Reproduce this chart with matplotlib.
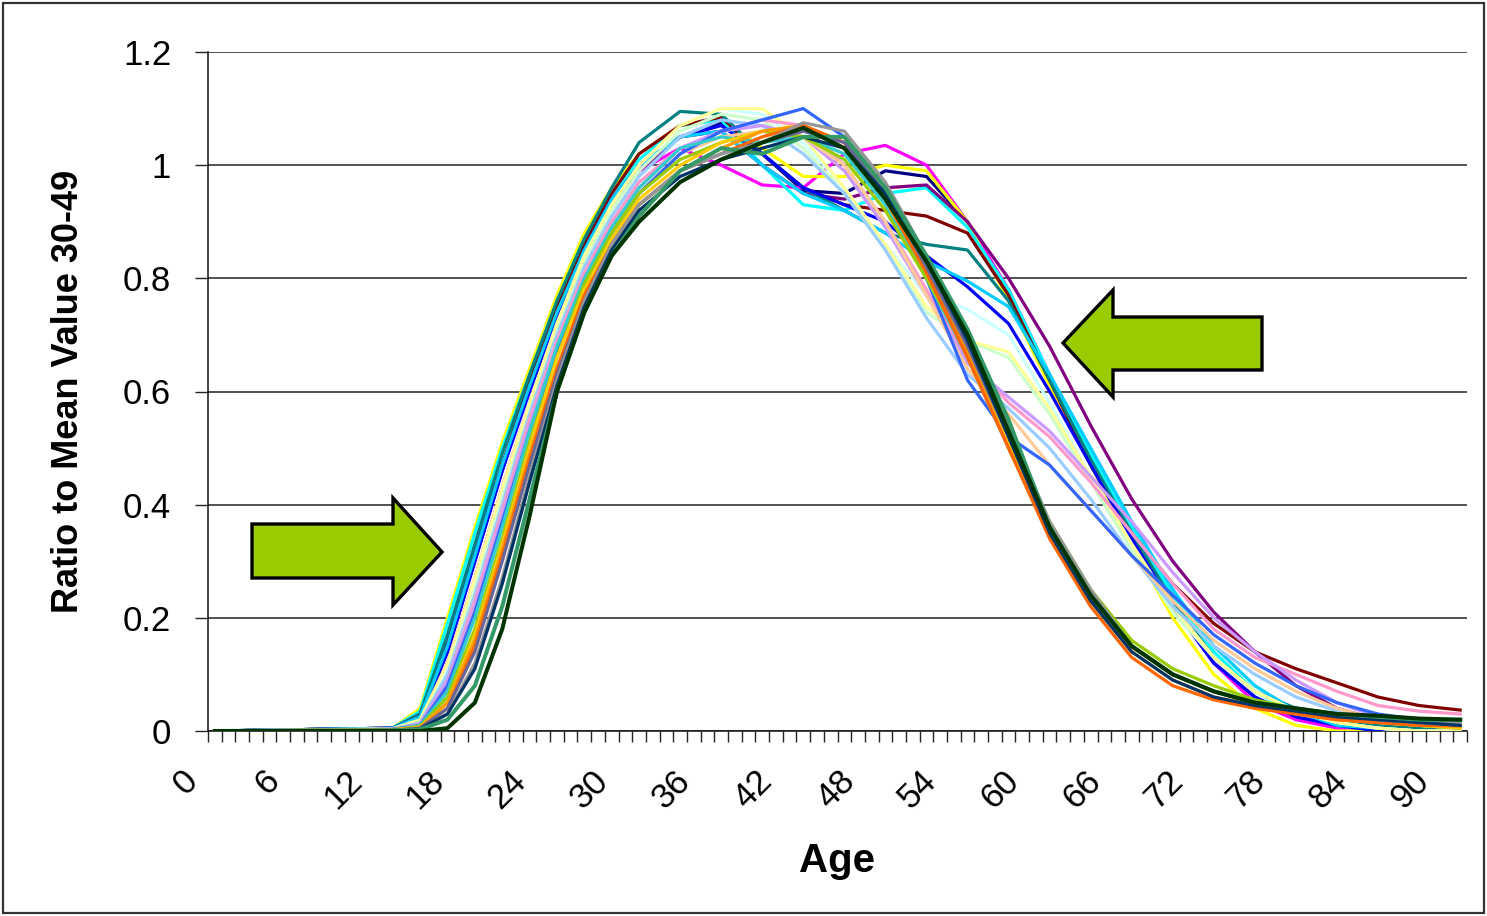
import numpy as np
import matplotlib
matplotlib.use("Agg")
import matplotlib.pyplot as plt
from matplotlib.patches import Polygon, Rectangle
from matplotlib.transforms import ScaledTranslation

plt.rcParams["font.family"] = ["Liberation Sans", "DejaVu Sans"]

# ── DATA ─────────────────────────────────────────────────────────────────────
AGES = [0, 13, 15, 17, 19, 21, 23, 25, 27, 29, 31, 34, 37, 40, 43, 46,
        49, 52, 55, 58, 61, 64, 67, 70, 73, 76, 79, 82, 85, 88, 91]
AGE_LABELS = list(range(0, 91, 6))
Y_TICKS = [0, 0.2, 0.4, 0.6, 0.8, 1.0, 1.2]
Y_TICK_LABELS = ["0", "0.2", "0.4", "0.6", "0.8", "1", "1.2"]

navy = [0, .005, .02, .14, .30, .46, .61, .74, .85, .93, .99, 1.05, 1.075, 1.02, .955, .95,
        .99, .98, .90, .77, .62, .48, .35, .22, .12, .06, .025, .005, 0, 0, 0]
magenta = [0, .005, .02, .12, .27, .43, .58, .72, .84, .93, .99, 1.03, 1.0, .965, .96, 1.02,
           1.035, 1.0, .90, .78, .63, .48, .35, .22, .12, .05, .02, .005, 0, 0, 0]
yellow = [0, .005, .04, .20, .36, .51, .64, .77, .88, .96, 1.02, 1.07, 1.08, 1.03, .98, .98,
          1.0, .99, .90, .76, .61, .47, .33, .20, .10, .04, .01, 0, 0, 0, 0]
cyan = [0, .005, .035, .19, .35, .50, .63, .76, .87, .95, 1.01, 1.07, 1.08, 1.0, .93, .92,
        .95, .96, .89, .78, .63, .49, .36, .24, .14, .07, .03, .01, 0, 0, 0]
purple = [0, .005, .03, .16, .32, .47, .61, .74, .85, .93, .99, 1.05, 1.06, 1.0, .95, .94,
          .96, .965, .90, .80, .68, .54, .41, .30, .21, .14, .08, .04, .02, .01, .005]
darkred = [0, .005, .025, .15, .31, .47, .62, .75, .86, .95, 1.02, 1.07, 1.085, 1.02, .96, .93,
           .92, .91, .88, .77, .62, .47, .35, .26, .19, .14, .11, .085, .06, .045, .037]
teal = [0, .005, .03, .17, .33, .49, .63, .76, .87, .96, 1.04, 1.095, 1.09, 1.02, .96, .92,
        .88, .86, .85, .76, .62, .48, .35, .23, .13, .07, .04, .02, .01, .005, 0]
blue = [0, .005, .025, .14, .30, .46, .60, .73, .85, .94, 1.0, 1.05, 1.07, 1.02, .96, .93,
        .90, .84, .785, .72, .60, .47, .34, .22, .12, .06, .025, .01, 0, 0, 0]
sky_blue = [0, .005, .025, .15, .31, .47, .61, .74, .85, .94, 1.0, 1.05, 1.06, 1.0, .95, .92,
            .88, .83, .795, .75, .63, .50, .37, .25, .15, .08, .035, .01, .005, 0, 0]
light_turquoise = [0, .003, .015, .11, .26, .42, .58, .72, .84, .93, 1.0, 1.07, 1.1, 1.09, 1.04, .96,
                   .86, .77, .745, .70, .58, .45, .33, .22, .13, .07, .035, .015, .005, 0, 0]
light_green = [0, .003, .015, .10, .25, .41, .57, .71, .83, .92, .99, 1.06, 1.09, 1.08, 1.03, .95,
               .85, .74, .69, .66, .56, .44, .32, .21, .13, .07, .035, .015, .005, 0, 0]
light_yellow = [0, .004, .02, .12, .27, .43, .58, .72, .84, .93, 1.0, 1.07, 1.1, 1.1, 1.05, .96,
                .86, .75, .69, .67, .57, .45, .33, .22, .13, .07, .035, .015, .005, 0, 0]
pale_blue = [0, .003, .015, .10, .24, .40, .56, .70, .82, .91, .98, 1.05, 1.08, 1.07, 1.02, .95,
             .85, .73, .63, .57, .50, .41, .31, .22, .15, .10, .06, .035, .02, .01, .005]
rose = [0, .003, .012, .09, .23, .39, .55, .69, .81, .90, .97, 1.03, 1.06, 1.08, 1.07, 1.0,
        .90, .78, .66, .58, .52, .44, .35, .26, .18, .13, .10, .07, .045, .035, .03]
lavender = [0, .003, .012, .09, .22, .38, .54, .68, .80, .89, .96, 1.03, 1.06, 1.07, 1.05, .99,
            .89, .77, .65, .59, .53, .45, .37, .28, .20, .14, .09, .05, .025, .015, .01]
tan = [0, .003, .01, .08, .21, .37, .53, .67, .79, .88, .95, 1.02, 1.05, 1.06, 1.05, 1.0,
       .90, .77, .64, .56, .47, .39, .31, .23, .16, .11, .07, .04, .02, .01, .005]
light_blue = [0, .003, .01, .08, .21, .37, .53, .67, .79, .88, .95, 1.02, 1.06, 1.08, 1.1, 1.05,
              .94, .80, .62, .52, .47, .39, .31, .24, .17, .12, .08, .05, .03, .02, .01]
aqua = [0, .002, .01, .07, .20, .36, .53, .68, .80, .89, .96, 1.03, 1.05, 1.04, 1.05, 1.02,
        .93, .80, .66, .50, .35, .23, .15, .10, .07, .05, .035, .025, .015, .01, .005]
lime = [0, .002, .008, .06, .18, .34, .51, .66, .79, .88, .95, 1.01, 1.04, 1.06, 1.05, 1.01,
        .92, .80, .67, .52, .37, .25, .16, .11, .08, .055, .04, .03, .02, .01, .005]
gold = [0, .002, .007, .05, .17, .33, .50, .66, .78, .87, .94, 1.0, 1.04, 1.06, 1.07, 1.03,
        .94, .81, .67, .51, .36, .24, .15, .10, .07, .05, .035, .025, .015, .01, .005]
light_orange = [0, .002, .006, .05, .16, .32, .49, .64, .77, .86, .93, .99, 1.03, 1.06, 1.07, 1.04,
                .95, .82, .67, .50, .35, .23, .14, .09, .06, .045, .03, .02, .015, .01, .008]
orange = [0, .001, .005, .04, .15, .31, .48, .64, .77, .86, .93, .99, 1.02, 1.05, 1.07, 1.04,
          .94, .81, .66, .50, .34, .22, .13, .08, .055, .04, .03, .02, .015, .01, .01]
blue_gray = [0, .001, .005, .04, .14, .30, .47, .63, .76, .86, .93, .99, 1.02, 1.04, 1.06, 1.04,
             .95, .82, .68, .52, .36, .24, .15, .10, .07, .05, .04, .03, .02, .015, .01]
gray = [0, .001, .004, .03, .12, .27, .45, .62, .76, .86, .93, .99, 1.02, 1.04, 1.075, 1.06,
        .97, .84, .70, .54, .37, .25, .15, .10, .07, .05, .04, .03, .02, .015, .015]
dark_teal = [0, .001, .004, .03, .11, .26, .44, .61, .75, .85, .92, .98, 1.01, 1.03, 1.05, 1.03,
             .95, .83, .69, .52, .35, .23, .14, .09, .06, .045, .035, .025, .02, .015, .01]
sea_green = [0, .001, .003, .02, .08, .22, .41, .60, .74, .84, .91, .99, 1.03, 1.02, 1.05, 1.05,
             .96, .84, .71, .55, .36, .24, .15, .10, .07, .05, .04, .03, .025, .02, .02]
dark_green = [0, 0, 0, .005, .05, .18, .38, .60, .74, .84, .90, .97, 1.01, 1.04, 1.066, 1.03,
              .94, .83, .70, .53, .36, .24, .15, .10, .07, .05, .04, .03, .027, .022, .02]

SERIES = [navy, magenta, yellow, cyan, purple, darkred, teal, blue, sky_blue,
          light_turquoise, light_green, light_yellow, pale_blue, rose, lavender, tan,
          light_blue, aqua, lime, gold, light_orange, orange, blue_gray, gray,
          dark_teal, sea_green, dark_green]
COLORS = ["#000080", "#FF00FF", "#FFFF00", "#00FFFF", "#800080", "#800000", "#008080",
          "#0000FF", "#00CCFF", "#CCFFFF", "#CCFFCC", "#FFFF99", "#99CCFF", "#FF99CC",
          "#CC99FF", "#FFCC99", "#3366FF", "#33CCCC", "#99CC00", "#FFCC00", "#FF9900",
          "#FF6600", "#666699", "#969696", "#003366", "#339966", "#003300"]

# ── FIGURE ───────────────────────────────────────────────────────────────────
W, H = 1487, 916
fig = plt.figure(figsize=(W / 100, H / 100), dpi=100)
ax = fig.add_axes([208 / W, 1 - 731 / H, (1467 - 208) / W, (731 - 52) / H])

for vals, col in zip(SERIES, COLORS):
    lw = 2.9 if col in ("#339966", "#003300") else 2.3
    ax.plot(AGES, vals, color=col, lw=lw, solid_joinstyle="round", zorder=3)

ax.set_xlim(-0.5, 91.5)
ax.set_ylim(0, 1.2)

# y axis + gridlines
ax.set_yticks(Y_TICKS)
ax.set_yticklabels(Y_TICK_LABELS)
ax.yaxis.grid(True, color="#222222", lw=1.1, zorder=1)
ax.tick_params(axis="y", length=9.5, width=1, color="#222222", pad=17, labelsize=25)

# x axis: tick marks at category boundaries, labels every 6 years
ax.set_xticks(np.arange(-0.5, 92, 1), minor=True)
ax.set_xticks(AGE_LABELS)
ax.set_xticklabels([str(a) for a in AGE_LABELS], rotation=45, ha="right", va="top",
                   rotation_mode="anchor")
ax.tick_params(axis="x", which="minor", length=8, width=1, color="#222222", direction="out")
ax.tick_params(axis="x", which="major", length=0, pad=24, labelsize=25)
shift = ScaledTranslation(-0.34, 0, fig.dpi_scale_trans)
for lab in ax.get_xticklabels():
    lab.set_transform(lab.get_transform() + shift)

for s in ["top", "right"]:
    ax.spines[s].set_visible(False)
for s in ["left", "bottom"]:
    ax.spines[s].set_color("#111111")
    ax.spines[s].set_linewidth(1.1)
ax.set_axisbelow(True)

ax.set_xlabel("Age", fontsize=29, fontweight="bold")
ax.xaxis.set_label_coords(0.5, -0.164)
ax.set_ylabel("Ratio to Mean Value 30-49", fontsize=26, fontweight="bold")
ax.yaxis.set_label_coords(-0.097, 0.5)


# green arrows (pixel outlines converted to figure fraction)
def px(points):
    return [(x / W, 1 - y / H) for x, y in points]


right_arrow = [(252, 524), (393, 524), (393, 498), (442, 552), (393, 605), (393, 578), (252, 578)]
left_arrow = [(1262, 317), (1113, 317), (1113, 290), (1063, 343), (1113, 397), (1113, 370), (1262, 370)]
for shape in (right_arrow, left_arrow):
    fig.patches.append(Polygon(px(shape), closed=True, transform=fig.transFigure,
                               facecolor="#99CC00", edgecolor="black", lw=2.4,
                               joinstyle="miter", zorder=5))

# outer frame
fig.patches.append(Rectangle((3 / W, 3 / H), 1 - 6 / W, 1 - 6 / H, transform=fig.transFigure,
                             fill=False, edgecolor="#333333", lw=1.6))

fig.savefig("out.png", dpi=100)
